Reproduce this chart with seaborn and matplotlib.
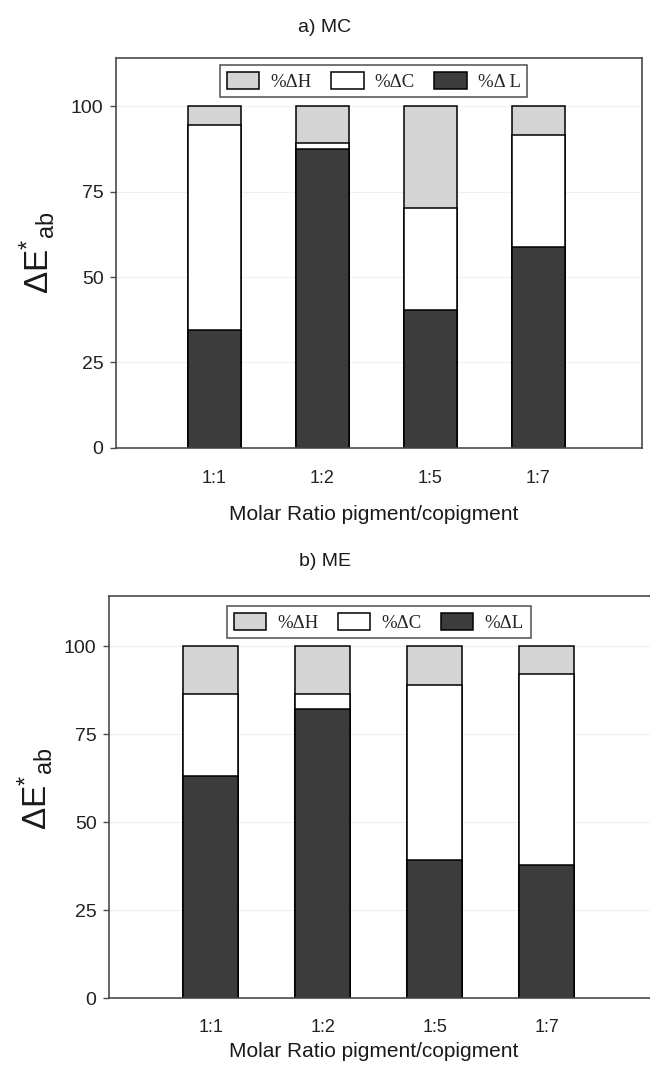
import matplotlib
matplotlib.use("Agg")
import matplotlib.pyplot as plt
from matplotlib.patches import Patch
import seaborn as sns

# Molar ratios pigment/copigment
ratios = ["1:1", "1:2", "1:5", "1:7"]

# a) MC : percentage contribution of each term to the total colour difference
mc_L = [34.5, 87.6, 40.3, 58.8]
mc_C = [60.0, 1.8, 29.9, 32.8]
mc_H = [5.5, 10.6, 29.8, 8.4]

# b) ME
me_L = [63.0, 82.1, 39.3, 37.8]
me_C = [23.4, 4.2, 49.6, 54.4]
me_H = [13.6, 13.7, 11.1, 7.8]

y_ticks = [0, 25, 50, 75, 100]
mc_labels = ["%\u0394H", "%\u0394C", "%\u0394 L"]
me_labels = ["%\u0394H", "%\u0394C", "%\u0394L"]

COL_H = "#d4d4d4"
COL_C = "#ffffff"
COL_L = "#3c3c3c"

sns.set_theme(style="white")
plt.rcParams["font.family"] = ["Liberation Sans", "DejaVu Sans"]
plt.rcParams["mathtext.fontset"] = "custom"
plt.rcParams["mathtext.rm"] = "Liberation Sans"
plt.rcParams["mathtext.it"] = "Liberation Sans"

W, H = 650, 1065
fig = plt.figure(figsize=(W / 100, H / 100), dpi=100)
fig.patch.set_facecolor("white")


def panel(ax, L, C, Hh, labels, xlab_pos, ylab_pos, leg_pos, tickpad):
    tot = [l + c + h for l, c, h in zip(L, C, Hh)]
    lc = [l + c for l, c in zip(L, C)]
    for vals, col in ((tot, COL_H), (lc, COL_C), (L, COL_L)):
        sns.barplot(x=ratios, y=vals, order=ratios, color=col, saturation=1,
                    edgecolor="black", linewidth=1.1, width=0.49,
                    errorbar=None, ax=ax)
    ax.set_xlim(-0.907, 3.958)
    ax.set_ylim(0, 114.2)
    ax.set_yticks(y_ticks)
    ax.yaxis.grid(True, color="#efefef", linewidth=0.8)
    ax.set_axisbelow(True)
    for s in ax.spines.values():
        s.set_visible(True)
        s.set_color("#4a4a4a")
        s.set_linewidth(1.2)
    ax.tick_params(axis="y", left=True, length=4, width=1, color="#4a4a4a",
                   labelsize=14, labelcolor="#222222", pad=5)
    ax.tick_params(axis="x", bottom=False, labelsize=13,
                   labelcolor="#222222", pad=tickpad)
    ax.set_xlabel("Molar Ratio pigment/copigment", fontsize=15,
                  color="#1a1a1a")
    ax.xaxis.set_label_coords(*xlab_pos)
    ax.xaxis.label.set_va("center")
    ax.set_ylabel(r"$\Delta$E$^{*}{}_{\mathregular{ab}}$", fontsize=24,
                  color="#1a1a1a")
    ax.yaxis.set_label_coords(*ylab_pos)
    ax.yaxis.label.set_va("center")
    handles = [Patch(facecolor=c, edgecolor="black", linewidth=1.1)
               for c in (COL_H, COL_C, COL_L)]
    leg = ax.legend(handles, labels, ncol=3, loc="center",
                    bbox_to_anchor=leg_pos, frameon=True, fancybox=False,
                    prop={"family": "Liberation Serif", "size": 13.5},
                    handlelength=1.75, handleheight=1.0, handletextpad=0.6,
                    columnspacing=1.0, borderpad=0.35, borderaxespad=0)
    leg.get_frame().set_edgecolor("#222222")
    leg.get_frame().set_linewidth(1.1)


ax1 = fig.add_axes([116 / W, 1 - 447.7 / H, 526 / W, 389.7 / H])
panel(ax1, mc_L, mc_C, mc_H, mc_labels,
      xlab_pos=(0.489, -0.172), ylab_pos=(-0.15, 0.5),
      leg_pos=(0.49, 0.94), tickpad=10)

ax2 = fig.add_axes([109 / W, 1 - 998.3 / H, 545 / W, 402.3 / H])
panel(ax2, me_L, me_C, me_H, me_labels,
      xlab_pos=(0.486, -0.132), ylab_pos=(-0.135, 0.52),
      leg_pos=(0.495, 0.935), tickpad=9)

fig.text(0.5, 1 - 27 / H, "a) MC", ha="center", va="center", fontsize=14,
         color="#1a1a1a")
fig.text(0.5, 1 - 562 / H, "b) ME", ha="center", va="center", fontsize=14,
         color="#1a1a1a")

fig.savefig("out.png", dpi=100, facecolor="white")
